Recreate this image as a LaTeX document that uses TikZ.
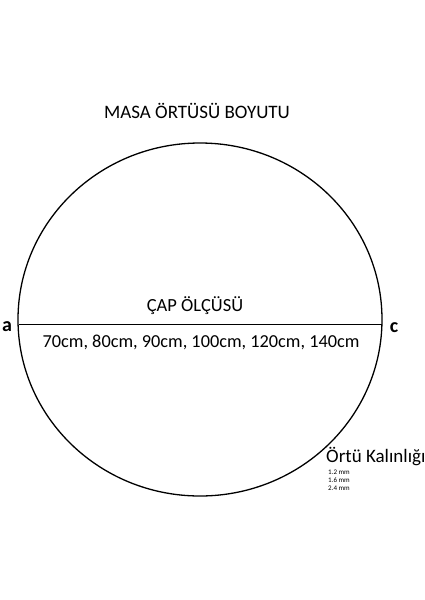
\documentclass[tikz,border=0pt]{standalone}
\usepackage{fontspec}
\setmainfont{Carlito}
\usetikzlibrary{shapes.geometric}
\begin{document}
\begin{tikzpicture}[x=1pt,y=-1pt,
  lbl/.style={inner sep=0pt,anchor=base,font=\fontsize{18.5}{22}\selectfont},
  side/.style={inner sep=0pt,anchor=base,font=\fontsize{20}{24}\selectfont\bfseries},
  small/.style={inner sep=0pt,anchor=base west,font=\fontsize{7}{8}\selectfont}]
\useasboundingbox (0,0) rectangle (424,600);
\node[draw,ellipse,line width=1.3pt,minimum width=364pt,minimum height=353pt,inner sep=0pt] (disc) at (200,319.5) {};
\coordinate (L) at (18.5,324);
\coordinate (R) at (381.5,324);
\draw[line width=1pt] (L) -- (R);
\node[lbl,font=\fontsize{19}{22}\selectfont] (title) at (197,118) {MASA ÖRTÜSÜ BOYUTU};
\node[lbl] (cap) at (195,311) {ÇAP ÖLÇÜSÜ};
\node[lbl,font=\fontsize{18.3}{22}\selectfont] (sizes) at (201,347) {70cm, 80cm, 90cm, 100cm, 120cm, 140cm};
\node[side] (a) at (7,331) {a};
\node[side] (c) at (394,332) {c};
\node[inner sep=0pt,anchor=base west,font=\fontsize{19}{22}\selectfont] (ortu) at (326,462) {Örtü Kalınlığı};
\node[small] (t1) at (328,474) {1.2 mm};
\node[small] (t2) at (328,482) {1.6 mm};
\node[small] (t3) at (328,490) {2.4 mm};
\end{tikzpicture}
\end{document}
